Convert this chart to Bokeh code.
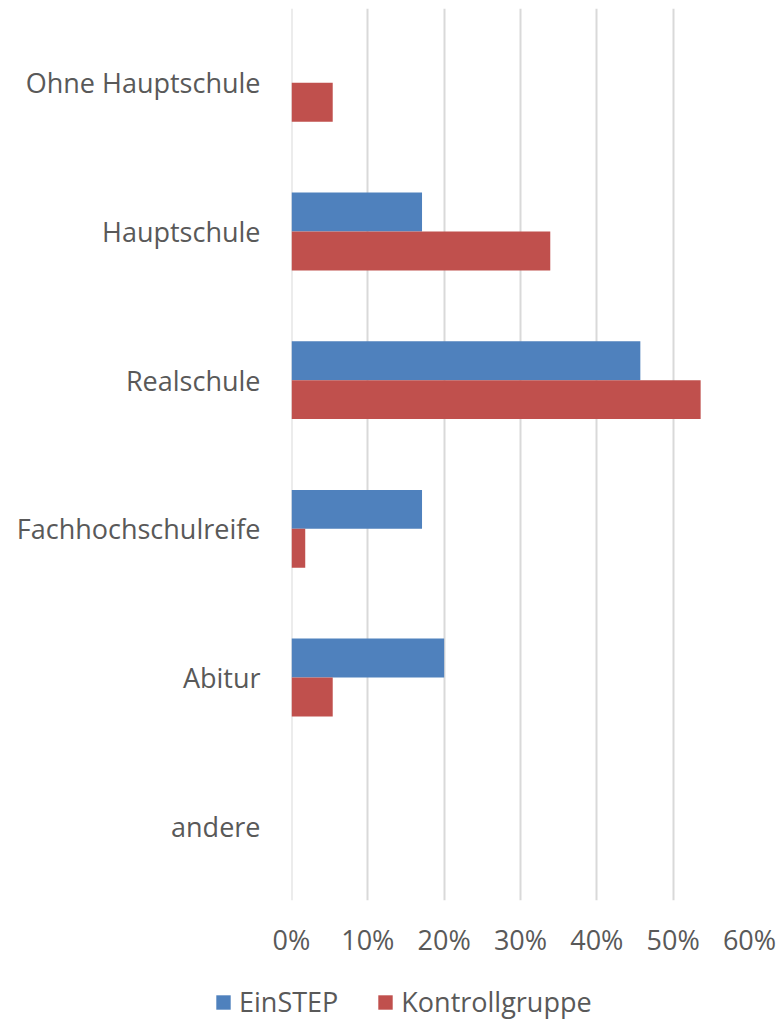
from bokeh.plotting import figure
from bokeh.models import (ColumnDataSource, FactorRange, Range1d, FixedTicker,
                          NumeralTickFormatter, Legend, LegendItem, Span)
from bokeh.layouts import column
from bokeh.transform import dodge
from bokeh.embed import file_html
from bokeh.resources import INLINE

categories = ["Ohne Hauptschule", "Hauptschule", "Realschule",
              "Fachhochschulreife", "Abitur", "andere"]
einstep = [0.0, 0.171, 0.457, 0.171, 0.200, 0.0]
kontrollgruppe = [0.054, 0.339, 0.536, 0.018, 0.054, 0.0]
x_ticks = [0, 0.1, 0.2, 0.3, 0.4, 0.5, 0.6]
series_names = ["EinSTEP", "Kontrollgruppe"]

FONT = "Open Sans"
TXT = "#595959"
BLUE = "#4F81BD"
RED = "#C0504D"
GRID = "#D9D9D9"

src = ColumnDataSource(dict(cat=categories, ein=einstep, kon=kontrollgruppe))

p = figure(width=779, height=960, output_backend="svg", toolbar_location=None,
           y_range=FactorRange(factors=list(reversed(categories)), range_padding=0),
           x_range=Range1d(0, 0.6),
           min_border_left=291, min_border_right=30, min_border_top=8,
           min_border_bottom=60)
p.frame_align = False
p.outline_line_color = None
p.background_fill_color = "white"
p.border_fill_color = "white"

p.add_layout(Span(location=0, dimension="height", line_color=GRID, line_width=2,
                  level="underlay"))

bh = 0.262
r1 = p.hbar(y=dodge("cat", bh / 2, range=p.y_range), right="ein", left=0, height=bh,
            source=src, fill_color=BLUE, line_color=None)
r2 = p.hbar(y=dodge("cat", -bh / 2, range=p.y_range), right="kon", left=0, height=bh,
            source=src, fill_color=RED, line_color=None)

p.xaxis.ticker = FixedTicker(ticks=x_ticks)
p.xaxis.formatter = NumeralTickFormatter(format="0%")
for ax in (p.xaxis[0], p.yaxis[0]):
    ax.axis_line_color = None
    ax.major_tick_line_color = None
    ax.minor_tick_line_color = None
    ax.major_label_text_font = FONT
    ax.major_label_text_font_size = "27px"
    ax.major_label_text_color = TXT
p.xaxis.major_label_standoff = 14
p.yaxis.major_label_standoff = 25

p.xgrid.grid_line_color = GRID
p.xgrid.grid_line_width = 2
p.ygrid.grid_line_color = None

# legend strip
q = figure(width=779, height=60, output_backend="svg", toolbar_location=None,
           x_range=Range1d(0, 1), y_range=Range1d(0, 1),
           x_axis_type=None, y_axis_type=None,
           min_border_left=0, min_border_right=0, min_border_top=0,
           min_border_bottom=0)
q.frame_align = False
q.outline_line_color = None
q.grid.grid_line_color = None
q.background_fill_color = "white"
q.border_fill_color = "white"
# legend proxies (zero-length, outside the visible range)
l1 = q.hbar(y=[-1], right=[0], left=0, height=0.5, fill_color=BLUE, line_color=None)
l2 = q.hbar(y=[-1], right=[0], left=0, height=0.5, fill_color=RED, line_color=None)

legend = Legend(items=[LegendItem(label=series_names[0], renderers=[l1]),
                       LegendItem(label=series_names[1], renderers=[l2])],
                location=(214, 0), orientation="horizontal",
                label_text_font=FONT, label_text_font_size="27px",
                label_text_color=TXT, glyph_width=18, glyph_height=18,
                label_standoff=7, spacing=38, padding=0, margin=0,
                border_line_color=None, background_fill_alpha=0)
q.add_layout(legend, "center")

layout = column(p, q, spacing=0)
open("out.html", "w").write(file_html(layout, INLINE))
